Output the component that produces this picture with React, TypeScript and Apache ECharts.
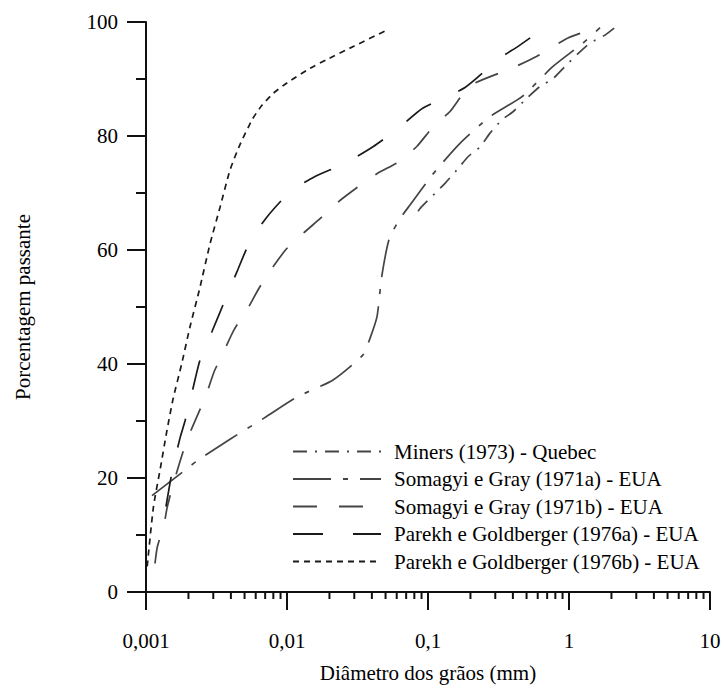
import React, { useEffect, useRef } from "react";
import * as echarts from "echarts";

const FONT = "Liberation Serif";

// Series data: [grain diameter (mm), percent passing]
const miners: [number, number][] = [
  [0.085, 66.8], [0.0902, 67.6], [0.132, 71.7], [0.1597, 74], [0.1931, 76.4], [0.2338, 78.1],
  [0.2753, 80.5], [0.3332, 82.8], [0.4027, 84.3], [0.5012, 86.6], [0.6228, 88.7], [0.7739, 90.1],
  [0.9368, 92.2], [1.164, 94.5], [1.409, 96.3], [1.8, 97.7], [2.237, 99.5],
];

const somagyiA: [number, number][] = [
  [0.001103, 16.9], [0.001829, 21.1], [0.0023, 23.0], [0.003942, 26.8], [0.006868, 30.5],
  [0.01178, 34.2], [0.0212, 37.2], [0.03459, 41.6], [0.03879, 44.5], [0.04348, 48.3],
  [0.04695, 55.3], [0.05316, 62], [0.0633, 65.5], [0.07456, 67.9], [0.109, 73.4],
  [0.1686, 78.7], [0.2753, 83.4], [0.4642, 86.9], [0.77, 92.2], [1.257, 96.3], [1.66, 99],
];

const somagyiB: [number, number][] = [
  [0.001158, 5], [0.001203, 7.9], [0.001342, 11.8], [0.001409, 14.7], [0.001554, 18.8],
  [0.001742, 22.9], [0.001953, 26.7], [0.0023, 30.8], [0.002665, 34.5], [0.003036, 38.6],
  [0.003574, 42.3], [0.004209, 46], [0.005203, 49.5], [0.00633, 53.3], [0.007828, 56.8],
  [0.01, 60.3], [0.01299, 62.9], [0.01771, 65.8], [0.023, 68.4], [0.03241, 71.2],
  [0.04419, 73.5], [0.06228, 75.5], [0.08356, 78.2], [0.1085, 81.6], [0.1432, 84.3],
  [0.1986, 88.8], [0.3942, 91.9], [0.5929, 94.0], [0.9838, 97.2], [1.58, 99],
];

const parekhA: [number, number][] = [
  [0.001386, 15], [0.001529, 21], [0.001742, 27], [0.001891, 30], [0.00212, 35],
  [0.002415, 40.7], [0.002938, 45.7], [0.003633, 51.2], [0.004419, 56.2], [0.005466, 61.5],
  [0.007214, 65.8], [0.0105, 70.2], [0.0158, 72.9], [0.02578, 75.2], [0.04073, 78.1],
  [0.06127, 81.3], [0.09216, 84.9], [0.183, 88.5], [0.3241, 93.7], [0.4278, 95.6], [0.6982, 99.3],
];

const parekhB: [number, number][] = [
  [0.00102, 4.5], [0.00113, 15], [0.00126, 21.5], [0.0014, 28], [0.00156, 34], [0.00179, 40],
  [0.00205, 46.5], [0.00239, 53], [0.00284, 61], [0.00335, 67.5], [0.00394, 74], [0.00464, 78.5],
  [0.0057, 83], [0.0066, 85.3], [0.008, 87.5], [0.01, 89.3], [0.0146, 91.9], [0.0191, 93.4],
  [0.0295, 95.7], [0.0523, 98.7],
];

const seriesNames = [
  "Miners (1973) - Quebec",
  "Somagyi e Gray (1971a) - EUA",
  "Somagyi e Gray (1971b) - EUA",
  "Parekh e Goldberger (1976a) - EUA",
  "Parekh e Goldberger (1976b) - EUA",
];

const xTickValues = [0.001, 0.01, 0.1, 1, 10];
const xTickLabels = ["0,001", "0,01", "0,1", "1", "10"];
const xMinorTicks = [
  0.002, 0.003, 0.004, 0.005, 0.006, 0.007, 0.008, 0.009,
  0.02, 0.03, 0.04, 0.05, 0.06, 0.07, 0.08, 0.09,
  0.2, 0.3, 0.4, 0.5, 0.6, 0.7, 0.8, 0.9,
  2, 3, 4, 5, 6, 7, 8, 9,
];

export default function App() {
  const ref = useRef<HTMLDivElement>(null);

  useEffect(() => {
    document.body.style.margin = "0";
    const chart = echarts.init(ref.current!, undefined, { renderer: "svg" });

    const mkLine = (name: string, data: [number, number][], color: string, dash: number[], width = 1.7) => ({
      name,
      type: "line",
      data,
      symbol: "none",
      smooth: 0.2,
      lineStyle: { color, width, type: dash },
      itemStyle: { color },
      z: 3,
    });

    chart.setOption({
      animation: false,
      backgroundColor: "#ffffff",
      textStyle: { fontFamily: FONT, color: "#000" },
      grid: { left: 146, top: 22, width: 564, height: 570, containLabel: false },
      legend: {
        orient: "vertical",
        left: 287,
        top: 436,
        itemWidth: 88,
        itemHeight: 14,
        itemGap: 6.5,
        data: seriesNames,
        itemStyle: { opacity: 0 },
        textStyle: { fontFamily: FONT, fontSize: 21, color: "#000", padding: [0, 0, 0, 8] },
      },
      xAxis: {
        type: "log",
        logBase: 10,
        min: 0.001,
        max: 10,
        name: "Diâmetro dos grãos (mm)",
        nameLocation: "middle",
        nameGap: 70,
        nameTextStyle: { fontFamily: FONT, fontSize: 21, color: "#000" },
        axisLine: { show: true, onZero: false, lineStyle: { color: "#111", width: 2 } },
        axisTick: { show: true, length: 18, lineStyle: { color: "#111", width: 2 } },
        axisLabel: {
          margin: 38,
          fontFamily: FONT,
          fontSize: 21,
          color: "#000",
          formatter: (v: number) => {
            const i = xTickValues.findIndex((t) => Math.abs(Math.log10(t) - Math.log10(v)) < 1e-6);
            return i >= 0 ? xTickLabels[i] : "";
          },
        },
        splitLine: { show: false },
      },
      yAxis: {
        type: "value",
        min: 0,
        max: 100,
        interval: 20,
        name: "Porcentagem passante",
        nameLocation: "middle",
        nameGap: 113,
        nameTextStyle: { fontFamily: FONT, fontSize: 21, color: "#000" },
        axisLine: { show: true, lineStyle: { color: "#111", width: 2 } },
        axisTick: { show: true, length: 19, lineStyle: { color: "#111", width: 2 } },
        minorTick: { show: true, splitNumber: 2, length: 10, lineStyle: { color: "#111", width: 2 } },
        axisLabel: { margin: 28, fontFamily: FONT, fontSize: 21, color: "#000" },
        splitLine: { show: false },
        minorSplitLine: { show: false },
      },
      series: [
        mkLine(seriesNames[0], miners, "#444", [14, 8, 2, 8]),
        mkLine(seriesNames[1], somagyiA, "#444", [38, 12, 5, 12]),
        mkLine(seriesNames[2], somagyiB, "#444", [24, 22]),
        mkLine(seriesNames[3], parekhA, "#1a1a1a", [30, 30]),
        mkLine(seriesNames[4], parekhB, "#1a1a1a", [6, 5]),
        {
          type: "custom",
          name: "minorTicks",
          silent: true,
          clip: false,
          data: xMinorTicks.map((v) => [v, 0]),
          renderItem: (_params: any, api: any) => {
            const pt = api.coord([api.value(0), 0]);
            return {
              type: "line",
              shape: { x1: pt[0], y1: pt[1], x2: pt[0], y2: pt[1] + 7 },
              style: { stroke: "#111", lineWidth: 2 },
            };
          },
          z: 5,
        },
      ],
    });

    return () => chart.dispose();
  }, []);

  return <div ref={ref} style={{ width: 724, height: 690 }} />;
}
